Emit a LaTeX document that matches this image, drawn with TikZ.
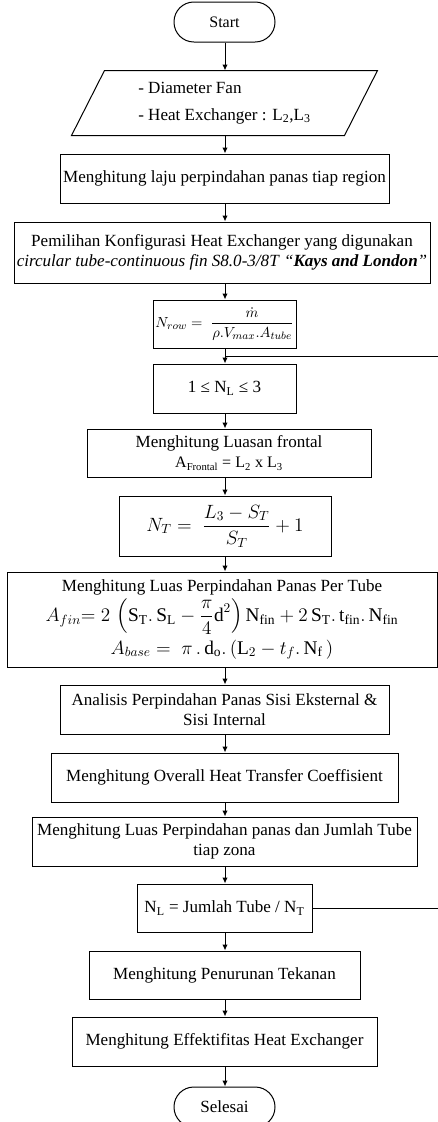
\documentclass[tikz,border=0pt]{standalone}
\usepackage{amsmath}
\usepackage{fontspec}
\setmainfont{Liberation Serif}
\usetikzlibrary{arrows.meta,calc}
\newcommand{\tx}[1]{\text{#1}}
\begin{document}
\begin{tikzpicture}[x=0.75pt,y=-0.75pt,
  box/.style={draw, line width=0.75pt, inner sep=0pt, align=center,
    font=\fontsize{12.8}{15.2}\selectfont},
  bx/.style 2 args={box, minimum width=#1*0.75pt, minimum height=#2*0.75pt},
  term/.style={bx={101}{40}, rounded corners=14.9pt},
  arr/.style={-{Latex[length=4.5pt,width=4pt]}, line width=0.75pt},
  ln/.style={line width=0.75pt}]
\useasboundingbox (0,0) rectangle (438,1122);
\clip (0,0) rectangle (438,1122);
\coordinate (ax) at (225,0);
\coordinate (rr) at (446,0);
\coordinate (j) at (225,356);

\node[term, font=\fontsize{12}{14}\selectfont] (start) at (224.5,22) {Start};
\node[bx={305}{64}, draw=none, align=left] (inp) at (224.5,103)
  {- Diameter Fan\\[5pt]- Heat Exchanger : L\textsubscript{2},L\textsubscript{3}};
\draw[ln] (inp.south west) -- ($(inp.north west)+(33,0)$) -- (inp.north east)
  -- ($(inp.south east)+(-33,0)$) -- cycle;
\node[bx={329}{49}] (b1) at (224.5,178.5) {Menghitung laju perpindahan panas tiap region};
\node[bx={416}{61}] (b2) at (222,252.5)
  {Pemilihan Konfigurasi Heat Exchanger yang digunakan\\
   \textit{circular tube-continuous fin S8.0-3/8T}\ \textit{“}\textbf{\textit{Kays and London}}\textit{”}};
\node[bx={143}{48}] (nrow) at (224.5,324)
  {\fontsize{11.2}{13}\selectfont $N_{row}=\;\dfrac{\dot m}{\rho.V_{max}.A_{tube}}$};
\node[bx={143}{49}] (range) at (224.5,388.5) {1 ≤ N\textsubscript{L} ≤ 3};
\node[bx={284}{48}] (lf) at (229,453)
  {Menghitung Luasan frontal\\
   {\fontsize{12}{13}\selectfont A\textsubscript{Frontal} = L\textsubscript{2} x L\textsubscript{3}}};
\node[bx={212}{60}] (nt) at (225,526)
  {\fontsize{14}{17}\selectfont $N_T=\;\dfrac{L_3-S_T}{S_T}+1$};
\node[bx={430}{95}] (af) at (222,619.5)
  {Menghitung Luas Perpindahan Panas Per Tube\\[2pt]
   \fontsize{14.5}{16}\selectfont
   $A_{fin}{=}\;2\,\left(\tx{S}_{\tx{T}}.\,\tx{S}_{\tx{L}}-\dfrac{\pi}{4}\tx{d}^2\right)\tx{N}_{\tx{fin}}+2\,\tx{S}_{\tx{T}}.\,\tx{t}_{\tx{fin}}.\,\tx{N}_{\tx{fin}}$\\[3pt]
   \fontsize{14.5}{16}\selectfont
   $A_{base}=\;\pi\,.\,\tx{d}_{\tx{o}}.\,(\tx{L}_2-t_f.\,\tx{N}_{\tx{f}}\,)$};
\node[bx={329}{49}] (an) at (224.5,709.5)
  {Analisis Perpindahan Panas Sisi Eksternal \&\\ Sisi Internal};
\node[bx={347}{49}] (ov) at (224.5,777.5) {Menghitung Overall Heat Transfer Coeffisient};
\node[bx={385}{49}] (lu) at (224.5,841.5)
  {Menghitung Luas Perpindahan panas dan Jumlah Tube\\ tiap zona};
\node[bx={175}{48}] (nl) at (224.5,908) {N\textsubscript{L} = Jumlah Tube / N\textsubscript{T}};
\node[bx={271}{48}] (pt) at (224.5,975) {Menghitung Penurunan Tekanan};
\node[bx={305}{49}] (ef) at (224.5,1041.5) {Menghitung Effektifitas Heat Exchanger};
\node[term] (end) at (224.5,1107) {Selesai};

\foreach \a/\b in {start/inp, inp/b1, b1/b2, b2/nrow, nrow/range, range/lf, lf/nt,
  nt/af, af/an, an/ov, ov/lu, lu/nl, nl/pt, pt/ef, ef/end}
  \draw[arr] (\a.south -| ax) -- (\b.north -| ax);
\draw[ln] (nl.east) -- (nl.east -| rr) -- (j -| rr) -- (j);
\end{tikzpicture}
\end{document}
